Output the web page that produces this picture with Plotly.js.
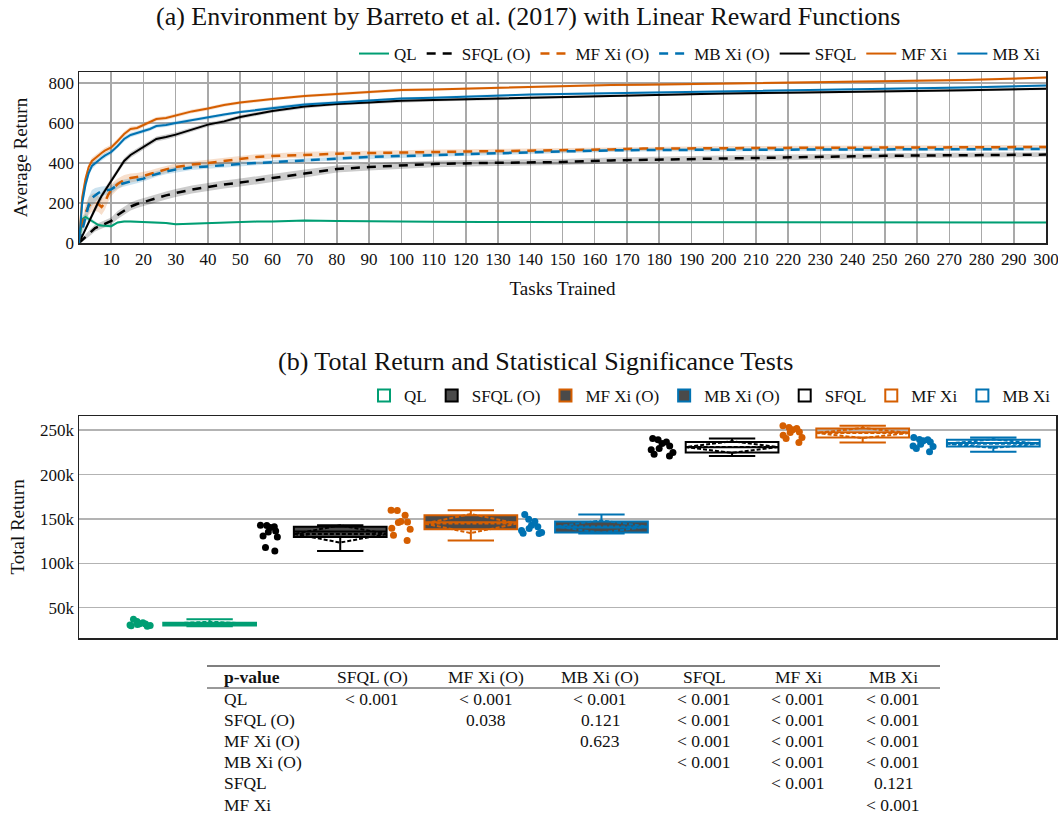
<!DOCTYPE html>
<html><head><meta charset="utf-8">
<script src="https://cdn.plot.ly/plotly-3.0.1.min.js"></script>
<style>html,body{margin:0;padding:0;background:#fff}#chart{width:1058px;height:816px}</style>
</head><body><div id="chart"></div>
<script>
// ---------- DATA: (a) average return per tasks trained ----------
const tasks = [0,1,2,3,4,5,6,7,8,9,10,12,14,16,18,20,22,24,27,30,35,40,45,50,55,60,70,80,90,100,110,125,140,150,165,175,200,225,250,275,300];
const taskTicks = [10,20,30,40,50,60,70,80,90,100,110,120,130,140,150,160,170,180,190,200,210,220,230,240,250,260,270,280,290,300];

const retQL    = [0,120,130,122,110,100,90,87,85,84,84, 103,108,107,106,104,103,102,100,94, 97,100,104,106,107,108,112,110,108,107, 106,105,105,105,105,104,104,104,103,103,103];
const retSFQLO = [0,15,30,47,60,75,82,88,94,100,110, 140,162,182,195,205,215,225,238,250, 267,280,293,302,312,325,347,370,380,388, 395,400,403,405,413,416,422,430,436,439,442];
const retMFO   = [0,90,150,185,200,205,195,180,200,240,265, 295,315,325,330,335,345,355,368,380, 392,400,410,420,430,435,442,446,450,452, 455,458,462,465,468,472,475,476,477,478,480];
const retMBO   = [0,60,130,190,225,240,250,258,262,265,268, 290,300,308,315,322,335,345,358,367, 377,383,390,395,400,405,415,422,430,435, 440,448,455,458,463,465,466,467,468,469,470];
const retSFQL  = [0,35,72,105,140,172,205,235,260,290,315, 365,410,440,460,482,500,520,530,542, 567,592,608,630,645,660,682,695,703,711, 715,720,727,731,737,740,747,752,757,764,771];
const retMF    = [0,230,320,380,410,425,440,450,462,470,478, 510,545,570,575,590,605,620,625,637, 658,672,690,702,712,720,735,746,755,765, 768,775,782,786,790,791,797,801,808,815,827];
const retMB    = [0,200,290,350,385,400,415,425,437,447,455, 485,520,540,550,558,570,585,590,600, 615,627,643,655,665,676,693,702,712,722, 726,735,742,745,749,751,757,763,770,778,787];

// half-widths of the shaded confidence bands
const bandQL    = [0,15,15,12,10,10,8,8,8,8,8, 6,6,5,5,5,5,5,5,5, 4,4,4,4,4,4,4,3,3,3, 3,3,3,3,3,3,3,3,3,3,3];
const bandSFQLO = [0,10,12,14,16,18,18,18,18,18,18, 20,20,20,20,20,20,20,20,20, 20,20,20,20,20,20,20,18,18,18, 16,16,16,15,15,15,14,14,13,12,12];
const bandMFO   = [0,30,40,45,45,45,40,40,35,35,30, 28,25,22,20,20,18,18,18,18, 16,16,15,15,14,14,14,13,13,12, 12,12,12,11,11,11,10,10,10,10,10];
const bandMBO   = [0,25,35,40,40,35,30,25,22,20,20, 18,18,16,16,15,15,14,14,14, 12,12,12,12,11,11,10,10,10,10, 9,9,9,9,8,8,8,8,8,8,8];
const bandSFQL  = [0,8,10,12,14,15,15,15,15,15,15, 15,15,14,14,13,13,12,12,12, 11,11,10,10,10,9,9,8,8,8, 7,7,7,6,6,6,6,6,6,6,6];
const bandMF    = [0,20,20,18,16,15,15,14,14,13,13, 12,12,12,11,11,10,10,10,10, 9,9,9,8,8,8,8,7,7,7, 6,6,6,6,6,6,6,6,6,6,6];
const bandMB    = [0,25,22,18,16,15,14,14,13,13,12, 12,12,11,11,10,10,10,10,10, 9,9,9,8,8,8,8,7,7,7, 6,6,6,6,6,6,6,6,6,6,6];

// ---------- DATA: (b) total return per seed ----------
const methods = ['QL','SFQL (O)','MF Xi (O)','MB Xi (O)','SFQL','MF Xi','MB Xi'];
const totQL    = [37000,34500,33000,32000,31500,31000,30500,30000,29500,29000];
const totSFQLO = [142800,142500,141300,140200,136500,135300,130800,129700,117700,113900];
const totMFO   = [159800,159500,154100,147000,146600,146000,139500,138300,131600,125600];
const totMBO   = [154900,149600,147000,143000,141300,139100,137000,134600,133800,133500];
const totSFQL  = [240600,239100,236800,235000,232300,229300,228000,224800,222900,221000];
const totMF    = [254900,253000,251900,250500,248100,247300,244400,241700,240600,236100];
const totMB    = [241700,239600,239100,238000,236800,234200,232300,231600,229300,225600];

// ---------- DATA: p-value table ----------
const tableHeader = ['p-value','SFQL (O)','MF Xi (O)','MB Xi (O)','SFQL','MF Xi','MB Xi'];
const tableRowNames = ['QL','SFQL (O)','MF Xi (O)','MB Xi (O)','SFQL','MF Xi'];
const pValues = [
  ['< 0.001','< 0.001','< 0.001','< 0.001','< 0.001','< 0.001'],
  ['','0.038','0.121','< 0.001','< 0.001','< 0.001'],
  ['','','0.623','< 0.001','< 0.001','< 0.001'],
  ['','','','< 0.001','< 0.001','< 0.001'],
  ['','','','','< 0.001','0.121'],
  ['','','','','','< 0.001']
];

// ---------- STYLE ----------
const FONT = '"Liberation Serif", "Times New Roman", Times, serif';
const TXT = '#111111';
const GREEN = '#009E73', ORANGE = '#D55E00', BLUE = '#0072B2', BLACK = '#000000';
const W = 1058, H = 816;
const px = v => v / W, py = v => 1 - v / H;

const lineSeries = [
  {name:'QL',        y:retQL,    b:bandQL,    color:GREEN,  dash:'solid', band:'rgba(0,158,115,0.2)'},
  {name:'SFQL (O)',  y:retSFQLO, b:bandSFQLO, color:BLACK,  dash:'9px,7px', band:'rgba(0,0,0,0.2)'},
  {name:'MF Xi (O)', y:retMFO,   b:bandMFO,   color:ORANGE, dash:'9px,7px', band:'rgba(213,94,0,0.2)'},
  {name:'MB Xi (O)', y:retMBO,   b:bandMBO,   color:BLUE,   dash:'9px,7px', band:'rgba(0,114,178,0.2)'},
  {name:'SFQL',      y:retSFQL,  b:bandSFQL,  color:BLACK,  dash:'solid', band:'rgba(0,0,0,0.2)'},
  {name:'MF Xi',     y:retMF,    b:bandMF,    color:ORANGE, dash:'solid', band:'rgba(213,94,0,0.2)'},
  {name:'MB Xi',     y:retMB,    b:bandMB,    color:BLUE,   dash:'solid', band:'rgba(0,114,178,0.2)'}
];

const traces = [];
lineSeries.forEach(s => {
  traces.push({type:'scatter', mode:'lines', x:tasks, y:s.y.map((v,i)=>v+s.b[i]), line:{width:0}, hoverinfo:'skip', showlegend:false, xaxis:'x', yaxis:'y'});
  traces.push({type:'scatter', mode:'lines', x:tasks, y:s.y.map((v,i)=>v-s.b[i]), line:{width:0}, fill:'tonexty', fillcolor:s.band, hoverinfo:'skip', showlegend:false, xaxis:'x', yaxis:'y'});
});
lineSeries.forEach(s => {
  traces.push({type:'scatter', mode:'lines', name:s.name, x:tasks, y:s.y,
    line:{color:s.color, width:s.dash==='solid'?2:2.5, dash:s.dash}, xaxis:'x', yaxis:'y', legend:'legend'});
});

const boxData = [totQL, totSFQLO, totMFO, totMBO, totSFQL, totMF, totMB];
const boxStyle = [
  {color:GREEN,  fill:'rgba(255,255,255,0)'},
  {color:BLACK,  fill:'#4a4a4a'},
  {color:ORANGE, fill:'#4a4a4a'},
  {color:BLUE,   fill:'#4a4a4a'},
  {color:BLACK,  fill:'rgba(255,255,255,0)'},
  {color:ORANGE, fill:'rgba(255,255,255,0)'},
  {color:BLUE,   fill:'rgba(255,255,255,0)'}
];
methods.forEach((m,i) => {
  traces.push({type:'box', name:m, x0:m, y:boxData[i], boxpoints:'all', jitter:0.3, pointpos:-1.5,
    boxmean:'sd', width:0.71, whiskerwidth:0.5,
    marker:{color:boxStyle[i].color, size:7}, line:{color:boxStyle[i].color, width:2},
    fillcolor:boxStyle[i].fill, xaxis:'x2', yaxis:'y2', legend:'legend2'});
});

// ---------- LAYOUT ----------
const ann = (text, x, y, size, xanchor) => ({text, x:px(x), y:py(y), xref:'paper', yref:'paper', showarrow:false,
  xanchor:xanchor||'center', yanchor:'middle', font:{size, family:FONT, color:TXT}});
const annotations = [
  ann('(a) Environment by Barreto et al. (2017) with Linear Reward Functions', 528, 16, 26),
  ann('(b) Total Return and Statistical Significance Tests', 535, 361, 26)
];
const colX = [222, 372, 486, 600, 704, 798, 893];
const headerY = 677, rowY0 = 699, rowDY = 21.1;
tableHeader.forEach((h,j) => {
  annotations.push(ann(j===0 ? '<b>'+h+'</b>' : h, j===0 ? colX[0] : colX[j], headerY, 17.5, j===0 ? 'left' : 'center'));
});
tableRowNames.forEach((r,i) => {
  annotations.push(ann(r, colX[0], rowY0+i*rowDY, 17.5, 'left'));
  pValues[i].forEach((v,j) => {
    if (v) annotations.push(ann(v.replace('<','&lt;'), colX[j+1], rowY0+i*rowDY, 17.5, 'center'));
  });
});
const shapes = [
  {type:'line', xref:'paper', yref:'paper', x0:px(207), x1:px(940), y0:py(666), y1:py(666), line:{color:'#000', width:1.2}},
  {type:'line', xref:'paper', yref:'paper', x0:px(207), x1:px(940), y0:py(688), y1:py(688), line:{color:'#000', width:0.8}}
];

const layout = {
  width:W, height:H, margin:{l:0,r:0,t:0,b:0},
  paper_bgcolor:'#fff', plot_bgcolor:'#fff',
  font:{family:FONT, size:17, color:TXT},
  showlegend:true,
  xaxis:{domain:[px(79), px(1046)], anchor:'y', range:[0,300], tickmode:'array', tickvals:taskTicks, showgrid:true, gridcolor:'#a9a9a9', gridwidth:1.5,
    zeroline:false, showline:true, mirror:true, linecolor:'#222', linewidth:1.5, ticks:'', ticklabeloverflow:'allow', tickfont:{size:17, family:FONT, color:TXT},
    title:{text:'Tasks Trained', font:{size:19, family:FONT, color:TXT}, standoff:14}},
  yaxis:{domain:[py(243), py(72)], anchor:'x', range:[0,855], dtick:200, showgrid:true, gridcolor:'#a9a9a9', gridwidth:1.5,
    zeroline:false, showline:true, mirror:true, linecolor:'#222', linewidth:1.5, ticks:'', tickfont:{size:17, family:FONT, color:TXT},
    title:{text:'Average Return', font:{size:19, family:FONT, color:TXT}, standoff:16}},
  xaxis2:{domain:[px(79), px(1056)], anchor:'y2', type:'category', categoryorder:'array', categoryarray:methods, range:[-1.0,6.48],
    showticklabels:false, showgrid:false, zeroline:false, showline:true, mirror:true, linecolor:'#222', linewidth:1.5, ticks:''},
  yaxis2:{domain:[py(638), py(416)], anchor:'x2', range:[15800,266000], tick0:0, dtick:50000, tickformat:'~s', showgrid:true, gridcolor:'#b3b3b3', gridwidth:1.5,
    zeroline:false, showline:true, mirror:true, linecolor:'#222', linewidth:1.5, ticks:'', tickfont:{size:17, family:FONT, color:TXT},
    title:{text:'Total Return', font:{size:19, family:FONT, color:TXT}, standoff:10}},
  legend:{orientation:'h', x:px(1046), xanchor:'right', y:py(54), yanchor:'middle', bgcolor:'rgba(0,0,0,0)', font:{size:17, family:FONT, color:TXT}, traceorder:'normal'},
  legend2:{orientation:'h', x:px(1056), xanchor:'right', y:py(396), yanchor:'middle', bgcolor:'rgba(0,0,0,0)', font:{size:17, family:FONT, color:TXT}, traceorder:'normal'},
  annotations, shapes
};

Plotly.newPlot('chart', traces, layout, {displayModeBar:false, staticPlot:true});
</script></body></html>
